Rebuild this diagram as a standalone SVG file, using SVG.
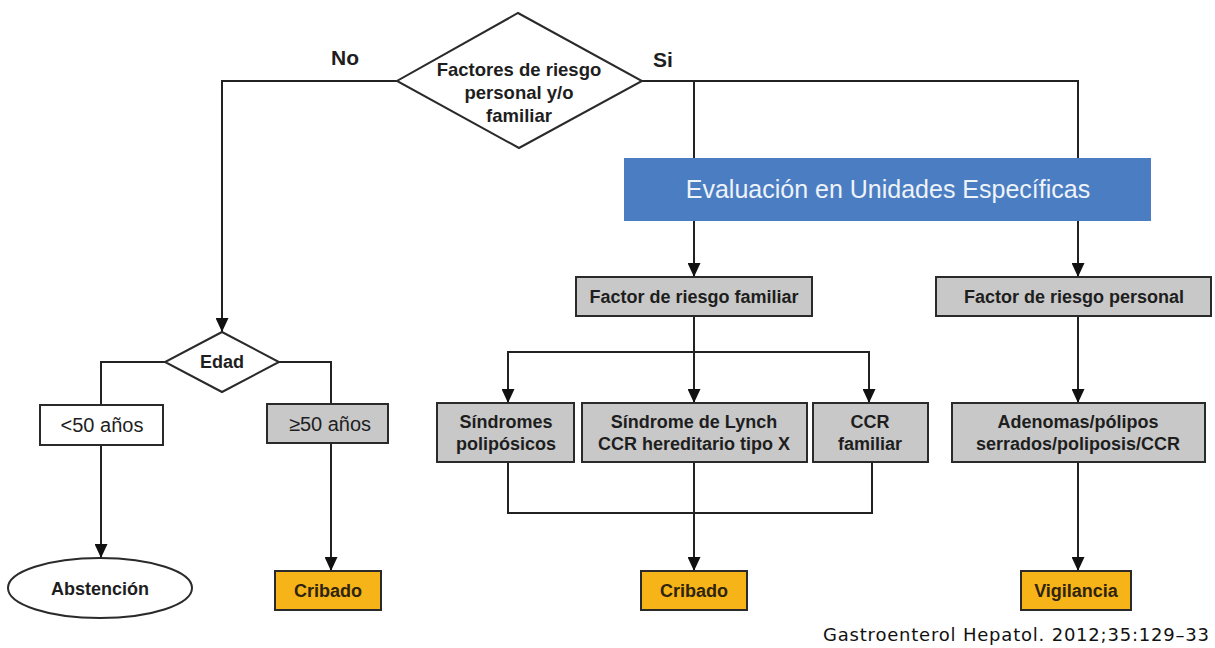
<svg xmlns="http://www.w3.org/2000/svg" width="1215" height="648" viewBox="0 0 1215 648">
<style>
.t{font-family:"Liberation Sans",Arial,sans-serif;font-weight:bold;font-size:18px;fill:#1e1e1e;text-anchor:middle}
.r{font-weight:normal;font-size:20px}
.ln{fill:none;stroke:#222;stroke-width:2}
.shape{stroke:#2a2a2a;stroke-width:2}
.white{fill:#fff}
.gray{fill:#c8c8c8}
.amber{fill:#f7b418}
</style>
<defs>
<marker id="ah" viewBox="0 0 14 13" refX="14" refY="6.5" markerWidth="14" markerHeight="13" orient="auto" markerUnits="userSpaceOnUse">
<path d="M0,0 L14,6.5 L0,13 z" fill="#111"/>
</marker>
</defs>
<rect width="1215" height="648" fill="#fff"/>
<g id="connectors">
<polyline class="ln" points="397,81 222,81 222,332" marker-end="url(#ah)"/>
<polyline class="ln" points="642,81 1078,81 1078,158"/>
<line class="ln" x1="694" y1="81" x2="694" y2="158"/>
<line class="ln" x1="694" y1="221" x2="694" y2="277" marker-end="url(#ah)"/>
<line class="ln" x1="1078" y1="221" x2="1078" y2="277" marker-end="url(#ah)"/>
<polyline class="ln" points="165,362 101,362 101,405"/>
<polyline class="ln" points="279,362 331,362 331,404"/>
<line class="ln" x1="101" y1="445" x2="101" y2="558" marker-end="url(#ah)"/>
<line class="ln" x1="331" y1="443" x2="331" y2="571" marker-end="url(#ah)"/>
<line class="ln" x1="694" y1="316" x2="694" y2="352"/>
<line class="ln" x1="507" y1="352" x2="870" y2="352"/>
<line class="ln" x1="508" y1="352" x2="508" y2="403" marker-end="url(#ah)"/>
<line class="ln" x1="694" y1="352" x2="694" y2="403" marker-end="url(#ah)"/>
<line class="ln" x1="869" y1="352" x2="869" y2="403" marker-end="url(#ah)"/>
<polyline class="ln" points="508,462 508,513 872,513 872,462"/>
<line class="ln" x1="694" y1="462" x2="694" y2="571" marker-end="url(#ah)"/>
<line class="ln" x1="1078" y1="316" x2="1078" y2="403" marker-end="url(#ah)"/>
<line class="ln" x1="1078" y1="462" x2="1078" y2="571" marker-end="url(#ah)"/>
</g>
<g id="labels">
<text class="t" x="345" y="65" style="font-size:21px">No</text>
<text class="t" x="663" y="67" style="font-size:21px">Si</text>
</g>
<g id="factores">
<polygon class="shape white" points="518,13 642,81 519,148 397,81"/>
<text class="t" x="519" y="76" style="font-size:18.5px">Factores de riesgo</text>
<text class="t" x="519" y="99" style="font-size:18.5px">personal y/o</text>
<text class="t" x="519" y="122" style="font-size:18.5px">familiar</text>
</g>
<g id="evaluacion">
<rect x="624" y="158" width="527" height="63" fill="#4b7dc2"/>
<text x="888" y="198" style="font-family:'Liberation Sans',Arial,sans-serif;font-size:25px;fill:#eef3f9;text-anchor:middle">Evaluación en Unidades Específicas</text>
</g>
<g id="edad">
<polygon class="shape white" points="222,332 279,362 222,392 165,362"/>
<text class="t" x="222" y="368">Edad</text>
</g>
<g id="menor50">
<rect class="shape white" x="40" y="405" width="123" height="40"/>
<text class="t r" x="102" y="432">&lt;50 años</text>
</g>
<g id="mayor50">
<rect class="shape gray" x="267" y="404" width="121" height="39"/>
<text class="t r" x="330" y="431">≥50 años</text>
</g>
<g id="abstencion">
<ellipse class="shape white" cx="100" cy="588" rx="92" ry="30"/>
<text class="t" x="100" y="595">Abstención</text>
</g>
<g id="cribado1">
<rect class="shape amber" x="275" y="571" width="106" height="39"/>
<text class="t" x="328" y="597" style="fill:#2e2410">Cribado</text>
</g>
<g id="familiar">
<rect class="shape gray" x="576" y="277" width="236" height="39"/>
<text class="t" x="694" y="303">Factor de riesgo familiar</text>
</g>
<g id="personal">
<rect class="shape gray" x="936" y="277" width="275" height="39"/>
<text class="t" x="1074" y="303">Factor de riesgo personal</text>
</g>
<g id="polipósicos">
<rect class="shape gray" x="437" y="403" width="137" height="59"/>
<text class="t" x="506" y="428">Síndromes</text>
<text class="t" x="506" y="450">polipósicos</text>
</g>
<g id="lynch">
<rect class="shape gray" x="582" y="403" width="225" height="59"/>
<text class="t" x="694" y="428">Síndrome de Lynch</text>
<text class="t" x="694" y="450">CCR hereditario tipo X</text>
</g>
<g id="ccrfamiliar">
<rect class="shape gray" x="813" y="403" width="115" height="59"/>
<text class="t" x="870" y="428">CCR</text>
<text class="t" x="870" y="450">familiar</text>
</g>
<g id="adenomas">
<rect class="shape gray" x="952" y="403" width="253" height="59"/>
<text class="t" x="1078" y="428">Adenomas/pólipos</text>
<text class="t" x="1078" y="450">serrados/poliposis/CCR</text>
</g>
<g id="cribado2">
<rect class="shape amber" x="641" y="571" width="106" height="39"/>
<text class="t" x="694" y="597" style="fill:#2e2410">Cribado</text>
</g>
<g id="vigilancia">
<rect class="shape amber" x="1021" y="571" width="110" height="39"/>
<text class="t" x="1076" y="597" style="fill:#2e2410">Vigilancia</text>
</g>
<g id="citation">
<text x="1209" y="641" textLength="386" style="font-family:'DejaVu Sans',sans-serif;font-size:18px;fill:#111;text-anchor:end">Gastroenterol Hepatol. 2012;35:129–33</text>
</g>
</svg>
